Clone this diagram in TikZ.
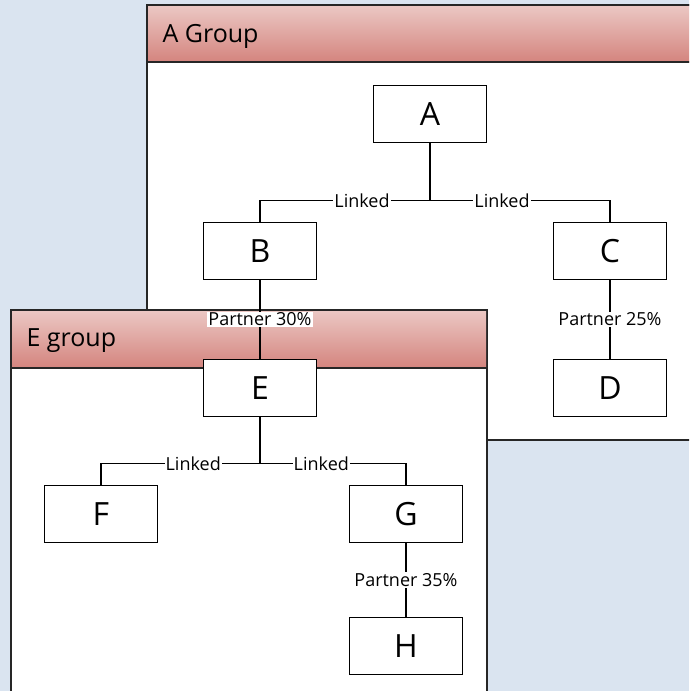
\documentclass[tikz,border=0pt]{standalone}
\usepackage{fontspec}
\setmainfont{Open Sans}
\usetikzlibrary{positioning,calc}

\definecolor{deskblue}{HTML}{DAE4F0}
\definecolor{headlight}{HTML}{EBC7C3}
\definecolor{headdark}{HTML}{D4847E}

\begin{document}
\begin{tikzpicture}[x=1pt,y=-1pt,
		panel/.style={draw=black!85, line width=1.6pt, fill=white},
		header/.style={top color=headlight, bottom color=headdark},
		title/.style={anchor=west, font=\fontsize{25}{25}\selectfont},
		box/.style={draw, line width=1.5pt, fill=white, minimum width=113pt, minimum height=57pt, inner sep=0pt, font=\fontsize{32}{32}\selectfont},
		tag/.style={fill=white, inner sep=1pt, font=\fontsize{18}{18}\selectfont},
		link/.style={line width=1.5pt}
	]
	\useasboundingbox (0,0) rectangle (689,691);
	\clip (0,0) rectangle (689,691);
	\fill[deskblue] (0,0) rectangle (689,691);

	% A group panel
	\draw[panel] (147,5) rectangle (700,440);
	\shade[header] (148,6) rectangle (700,62);
	\draw[line width=1.8pt, black!85] (147,5) -- (700,5) (147,62) -- (700,62);
	\node[title] (atitle) at (159,36) {A Group};

	\node[box] (A) at (430,114) {A};
	\node[box] (B) at (260,251) {B};
	\node[box] (C) at (610,251) {C};
	\node[box] (D) at (610,388) {D};

	\coordinate (abus) at ($(A.south)+(0,57)$);
	\draw[link] (A.south) -- (abus);
	\draw[link] (B.north) |- (abus) node[tag, pos=0.8] {Linked};
	\draw[link] (C.north) |- (abus) node[tag, pos=0.8] {Linked};
	\draw[link] (C) -- node[tag] {Partner 25\%} (D);

	% E group panel
	\draw[panel] (11,310) rectangle (487,700);
	\shade[header] (12,311) rectangle (486,368);
	\draw[line width=1.8pt, black!85] (11,310) -- (487,310) (11,368) -- (487,368);
	\node[title] (etitle) at (23,341) {E group};

	\node[box] (E) at (260,388) {E};
	\node[box] (F) at (101,514) {F};
	\node[box] (G) at (406,514) {G};
	\node[box] (H) at (406,646) {H};

	\draw[link] (B) -- node[tag] {Partner 30\%} (E);

	\coordinate (ebus) at ($(E.south)+(0,46)$);
	\draw[link] (E.south) -- (ebus);
	\draw[link] (F.north) |- (ebus) node[tag, pos=0.79] {Linked};
	\draw[link] (G.north) |- (ebus) node[tag, pos=0.79] {Linked};
	\draw[link] (G) -- node[tag] {Partner 35\%} (H);
\end{tikzpicture}
\end{document}
